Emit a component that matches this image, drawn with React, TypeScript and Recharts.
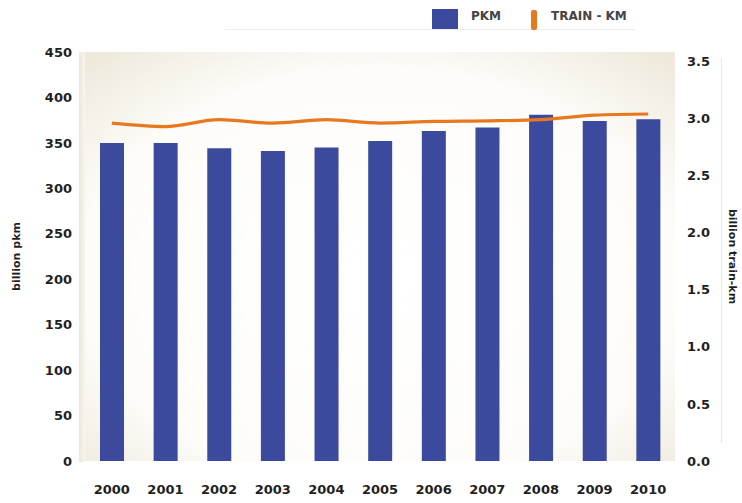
import React from 'react';
import { ComposedChart, Bar, Line, XAxis, YAxis, CartesianGrid } from 'recharts';

const years = ['2000', '2001', '2002', '2003', '2004', '2005', '2006', '2007', '2008', '2009', '2010'];
const pkm = [350, 350, 344, 341, 345, 352, 363, 367, 381, 374, 376];
const trainKm = [2.96, 2.93, 2.99, 2.96, 2.99, 2.96, 2.975, 2.98, 2.99, 3.03, 3.04];
const leftTicks = [0, 50, 100, 150, 200, 250, 300, 350, 400, 450];
const rightTicks = [0, 0.5, 1, 1.5, 2, 2.5, 3, 3.5];

const data = years.map((y, i) => ({ year: y, pkm: pkm[i], train: trainKm[i] }));

const FONT = '"DejaVu Sans", sans-serif';
const BLUE = '#3B4A9C';
const ORANGE = '#E8781E';
const tickStyle = { fontFamily: FONT, fontWeight: 700, fontSize: 13, fill: '#1f1f1f' };

export default function App() {
  return (
    <div style={{ position: 'absolute', left: 0, top: 0, width: 742, height: 503, background: '#fff', fontFamily: FONT }}>
      <div style={{ position: 'absolute', left: 225, top: 29, width: 410, height: 1, background: '#ececec' }} />
      <div style={{ position: 'absolute', left: 721, top: 58, width: 1, height: 385, background: '#ebe7df' }} />
      <div style={{ position: 'absolute', left: 79, top: 52, width: 6, height: 410, background: 'linear-gradient(to right, #ece6d8, #f8f6f0)' }} />
      <div style={{ position: 'absolute', left: 432, top: 9, width: 26, height: 20, background: BLUE }} />
      <div style={{ position: 'absolute', left: 471, top: 8, fontSize: 12, fontWeight: 700, color: '#444', lineHeight: '16px' }}>PKM</div>
      <div style={{ position: 'absolute', left: 531, top: 10, width: 6, height: 20, background: ORANGE, borderRadius: 2 }} />
      <div style={{ position: 'absolute', left: 551, top: 8, fontSize: 12, fontWeight: 700, color: '#444', lineHeight: '16px' }}>TRAIN - KM</div>
      <ComposedChart width={742} height={503} data={data} margin={{ top: 52, right: 0, bottom: 0, left: 0 }} barSize={24}>
        <defs>
          <radialGradient id="plotBg" cx="50%" cy="55%" r="72%">
            <stop offset="0%" stopColor="#ffffff" />
            <stop offset="70%" stopColor="#fdfcf9" />
            <stop offset="100%" stopColor="#efe9dc" />
          </radialGradient>
        </defs>
        <CartesianGrid horizontal={false} vertical={false} fill="url(#plotBg)" />
        <XAxis dataKey="year" height={42} axisLine={false} tickLine={false} tickSize={0} tickMargin={24} tick={tickStyle} interval={0} />
        <YAxis yAxisId="left" orientation="left" width={85} domain={[0, 450]} ticks={leftTicks} axisLine={false} tickLine={false} tickSize={0} tickMargin={13} tick={tickStyle} interval={0}
          label={{ value: 'billion pkm', angle: -90, position: 'insideLeft', offset: 16, style: { fontFamily: FONT, fontWeight: 700, fontSize: 11, fill: '#1f1f1f', textAnchor: 'middle' } }} />
        <YAxis yAxisId="right" orientation="right" width={67} domain={[0, 3.583]} ticks={rightTicks} axisLine={false} tickLine={false} tickSize={0} tickMargin={12} tick={tickStyle} interval={0}
          tickFormatter={(v: number) => v.toFixed(1)}
          label={{ value: 'billion train-km', angle: 90, position: 'insideRight', offset: 9, style: { fontFamily: FONT, fontWeight: 700, fontSize: 11, fill: '#1f1f1f', textAnchor: 'middle' } }} />
        <Bar yAxisId="left" dataKey="pkm" fill={BLUE} isAnimationActive={false} />
        <Line yAxisId="right" dataKey="train" type="monotone" stroke={ORANGE} strokeWidth={3.2} dot={false} activeDot={false} isAnimationActive={false} />
      </ComposedChart>
    </div>
  );
}
